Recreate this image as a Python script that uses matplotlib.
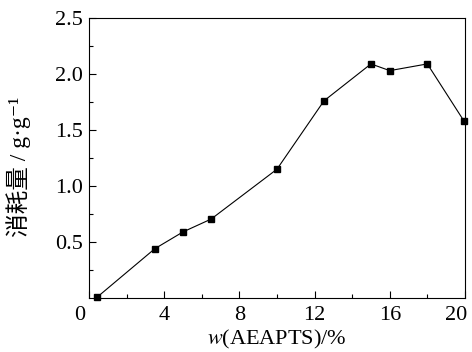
import matplotlib.pyplot as plt
from matplotlib.transforms import ScaledTranslation

plt.rcParams['font.family'] = ['Liberation Serif', 'Noto Sans CJK SC', 'DejaVu Sans']
plt.rcParams['mathtext.fontset'] = 'stix'

w = [0.45, 3.5, 5.0, 6.5, 10.0, 12.5, 15.0, 16.0, 18.0, 19.95]
consumption = [0.01, 0.44, 0.59, 0.705, 1.15, 1.76, 2.09, 2.03, 2.09, 1.58]

xticks = [0, 4, 8, 12, 16, 20]
yticks = [0.5, 1.0, 1.5, 2.0, 2.5]

fig = plt.figure(figsize=(4.72, 3.52), dpi=100)
ax = fig.add_axes([0.1886, 0.1534, 0.7964, 0.7955])

ax.plot(w, consumption, color='black', lw=0.8, marker='s', ms=4.5,
        markerfacecolor='black', markeredgecolor='black', clip_on=False)

ax.set_xlim(0, 20)
ax.set_ylim(0, 2.5)
ax.set_xticks(xticks)
ax.set_xticklabels([str(t) for t in xticks])
ax.set_yticks(yticks)
ax.set_yticklabels(['%.1f' % t for t in yticks])
ax.set_xticks([2, 6, 10, 14, 18], minor=True)
ax.set_yticks([0.25, 0.75, 1.25, 1.75, 2.25], minor=True)

ax.tick_params(which='both', direction='in', top=False, right=False,
               labelsize=16, width=0.8)
ax.tick_params(which='major', length=5)
ax.tick_params(axis='x', which='major', pad=6)
ax.tick_params(axis='y', which='major', pad=4.5)
ax.tick_params(which='minor', length=3)
for s in ax.spines.values():
    s.set_linewidth(0.8)

# nudge the end labels like the original
labels = ax.get_xticklabels()
shift = ScaledTranslation(-9 / 100, 0, fig.dpi_scale_trans)
labels[0].set_transform(labels[0].get_transform() + shift)
labels[-1].set_transform(labels[-1].get_transform() + shift)

ax.set_xlabel(r'$w$(AEAPTS)/%', fontsize=16, labelpad=2)
ax.set_ylabel('消耗量 / g·g⁻¹', fontsize=17)
ax.yaxis.set_label_coords(-0.155, 0.47)

fig.savefig('out.png', dpi=100)
